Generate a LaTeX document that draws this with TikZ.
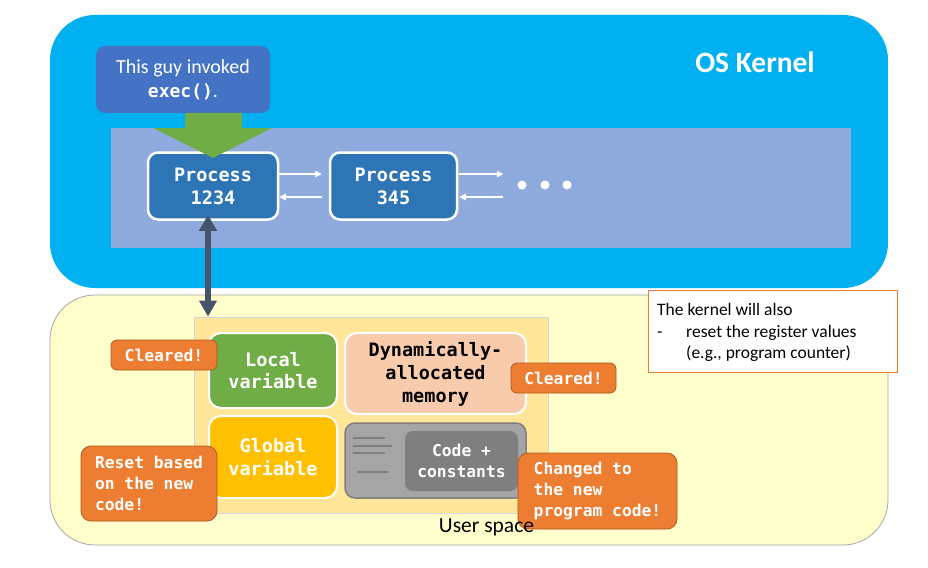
\documentclass[tikz,border=0pt]{standalone}
\usepackage{fontspec}
\setmainfont{Carlito}
\newfontfamily\monofnt{DejaVu Sans Mono}
\usetikzlibrary{arrows.meta,calc}
\definecolor{kblue}{HTML}{00B0F0}
\definecolor{plistc}{HTML}{8FAADC}
\definecolor{callc}{HTML}{4472C4}
\definecolor{procc}{HTML}{2E75B6}
\definecolor{greenc}{HTML}{70AD47}
\definecolor{darkarr}{HTML}{44546A}
\definecolor{userc}{HTML}{FFFFCC}
\definecolor{userb}{HTML}{A6A6A6}
\definecolor{memc}{HTML}{FFE699}
\definecolor{memb}{HTML}{D0D6E0}
\definecolor{peach}{HTML}{F8CBAD}
\definecolor{gold}{HTML}{FFC000}
\definecolor{grayc}{HTML}{A5A5A5}
\definecolor{grayd}{HTML}{7F7F7F}
\definecolor{orangec}{HTML}{ED7D31}
\definecolor{oranged}{HTML}{AE5A21}
\tikzset{
  bigbox/.style={inner sep=0pt, rounded corners=45pt},
  proc/.style={fill=procc, draw=white, line width=2.5pt, rounded corners=10pt,
    minimum width=130pt, minimum height=67pt, inner sep=0pt, align=center,
    text=white, font=\monofnt\bfseries\fontsize{18.5}{23}\selectfont},
  membox/.style={draw=white, line width=2pt, rounded corners=12pt,
    inner sep=0pt, align=center, text=white,
    font=\monofnt\bfseries\fontsize{18.5}{22.5}\selectfont},
  tag/.style={fill=orangec, draw=oranged, line width=0.8pt, rounded corners=6pt,
    inner sep=0pt, align=left, text=white,
    font=\monofnt\bfseries\fontsize{16.3}{21}\selectfont},
  warrow/.style={draw=white, line width=1.3pt, -{Triangle[width=6.5pt,length=6.5pt]}},
  dot/.style={circle, fill=white, minimum size=9pt, inner sep=0pt},
  codeline/.style={draw=grayd, line width=1.4pt},
  notetext/.style={anchor=base west, inner sep=0pt, font=\fontsize{17.5}{21}\selectfont},
  darrow/.style={draw=darkarr, line width=6pt,
    {Triangle[width=17pt,length=16pt]}-{Triangle[width=17pt,length=16pt]}}
}
\begin{document}
\begin{tikzpicture}[x=1pt,y=-1pt]
\useasboundingbox (0,0) rectangle (928,567);
% kernel
\node[bigbox, fill=kblue, minimum width=838pt, minimum height=273pt] (kernel) at (469,151.5) {};
\node[text=white, font=\bfseries\fontsize{29.5}{30}\selectfont] (oslabel) at (755,62) {OS Kernel};
\node[fill=plistc, minimum width=740pt, minimum height=120pt, inner sep=0pt] (plist) at (481,188) {};
\node[fill=callc, rounded corners=9pt, minimum width=174pt, minimum height=67pt, inner sep=0pt,
  text=white, align=center, font=\fontsize{20}{24}\selectfont] (callout) at (183,79.5)
  {This guy invoked\\{\monofnt\bfseries\fontsize{18}{24}\selectfont exec()}.};
\node[proc] (p1) at (213,186) {Process\\1234};
\node[proc, minimum width=127pt] (p2) at (393.5,186) {Process\\345};
\node[dot] (d1) at (522,185) {};
\node[dot] (d2) at (545,185) {};
\node[dot] (d3) at (567,185) {};
\draw[warrow, shorten >=7pt] ([yshift=12pt]p1.east) -- ([yshift=12pt]p2.west);
\draw[warrow, shorten <=7pt] ([yshift=-11pt]p2.west) -- ([yshift=-11pt]p1.east);
\draw[warrow, shorten >=14pt, shorten <=1pt] ([yshift=12pt]p2.east) -- ([yshift=12pt]p2.east -| d1.west);
\draw[warrow, shorten <=14pt, shorten >=1pt] ([yshift=-11pt]p2.east -| d1.west) -- ([yshift=-11pt]p2.east);
\fill[greenc] (185,113) -- (242,113) -- (242,128) -- (272,128) -- (213,158) -- (153,128) -- (185,128) -- cycle;
% user space
\node[bigbox, fill=userc, draw=userb, line width=0.8pt, minimum width=838pt, minimum height=250pt] (user) at (469,420) {};
\node[fill=memc, draw=memb, line width=0.8pt, minimum width=354pt, minimum height=196pt, inner sep=0pt] (mem) at (371,415) {};
\node[membox, fill=greenc, minimum width=128pt, minimum height=75pt] (local) at (273,370.5) {Local\\variable};
\node[membox, fill=peach, text=black, minimum width=181pt, minimum height=81pt,
  font=\monofnt\bfseries\fontsize{18.5}{23}\selectfont] (dyn) at (435.5,373.5) {Dynamically-\\allocated\\memory};
\node[membox, fill=gold, minimum width=128pt, minimum height=82pt] (global) at (273,457) {Global\\variable};
\node[fill=grayc, draw=grayd, line width=1.5pt, rounded corners=10pt, minimum width=181pt, minimum height=75pt, inner sep=0pt] (code) at (435.5,460.5) {};
\node[fill=grayd, rounded corners=8pt, minimum width=113pt, minimum height=60pt, inner sep=0pt, align=center,
  text=white, font=\monofnt\bfseries\fontsize{16.3}{21}\selectfont] (codein) at (461.5,461) {Code +\\constants};
\draw[codeline] (353,438) -- (385,438);
\draw[codeline] (353,446) -- (392,446);
\draw[codeline] (353,453) -- (385,453);
\draw[codeline] (357,472) -- (388,472);
\node[tag, minimum width=106pt, minimum height=30pt, align=center] (clr1) at (164,355) {Cleared!};
\node[tag, minimum width=105pt, minimum height=30pt, align=center] (clr2) at (563.5,378) {Cleared!};
\node[tag, rounded corners=10pt, minimum width=136pt, minimum height=75pt] (reset) at (149,483.5) {Reset based\\on the new\\code!};
\node[tag, rounded corners=10pt, minimum width=159pt, minimum height=76pt] (changed) at (597.5,491) {Changed to\\the new\\program code!};
\node[inner sep=0pt, font=\fontsize{21.5}{24}\selectfont] (ulabel) at (486.5,527) {User space};
% note
\node[fill=white, draw=orangec, line width=0.9pt, minimum width=249pt, minimum height=82pt, inner sep=0pt] (note) at (772.5,331) {};
\node[notetext] (n1) at (657,315) {The kernel will also};
\node[notetext] (n2) at (657,337) {-};
\node[notetext] (n3) at (686,337) {reset the register values};
\node[notetext] (n4) at (686,358) {(e.g., program counter)};
% double arrow
\draw[darrow] ([xshift=-5pt,yshift=6pt]p1.south) -- ([xshift=-5pt]p1.south |- mem.north);
\end{tikzpicture}
\end{document}
